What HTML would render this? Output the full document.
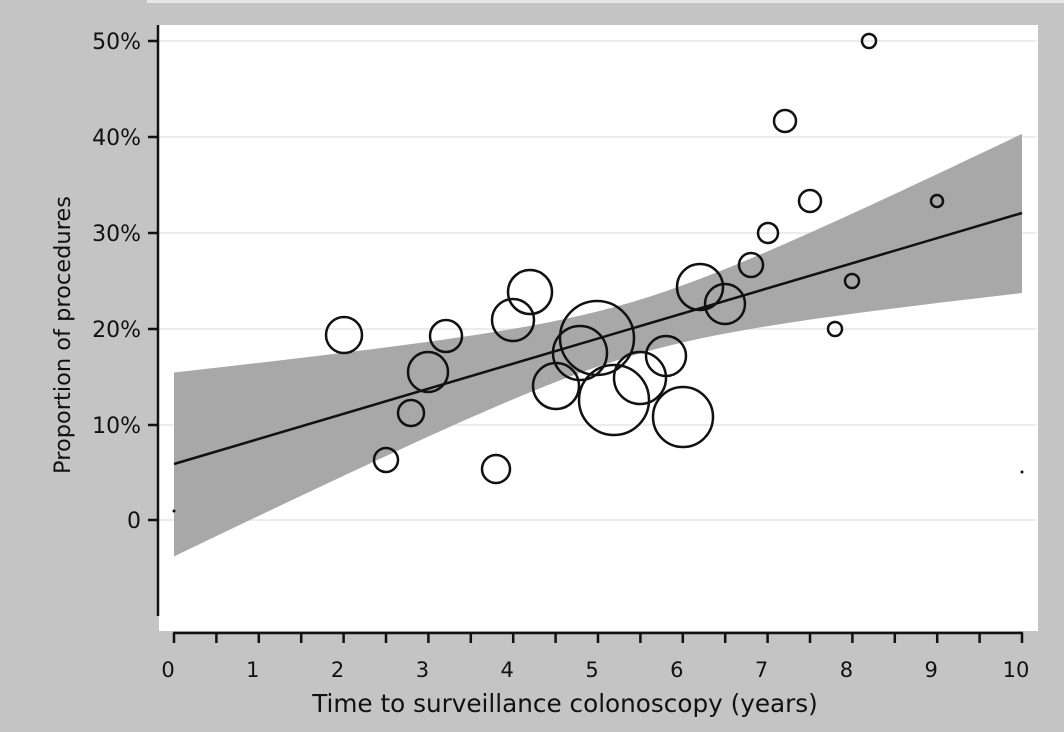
<!DOCTYPE html>
<html><head><style>
html,body{margin:0;padding:0;background:#c4c4c4;}
svg{display:block;font-family:"DejaVu Sans","Liberation Sans",sans-serif;}
</style></head><body>
<svg width="1064" height="732" viewBox="0 0 1064 732" xmlns="http://www.w3.org/2000/svg">
<rect x="0" y="0" width="1064" height="732" fill="#c4c4c4"/>
<rect x="147" y="0" width="917" height="3" fill="#e6e6e6"/>
<rect x="159" y="25" width="879" height="606" fill="#fff"/>
<g stroke="#ececec" stroke-width="2">
<line x1="159" y1="41" x2="1036" y2="41"/><line x1="159" y1="137" x2="1036" y2="137"/>
<line x1="159" y1="233" x2="1036" y2="233"/><line x1="159" y1="329" x2="1036" y2="329"/>
<line x1="159" y1="425" x2="1036" y2="425"/><line x1="159" y1="520" x2="1036" y2="520"/>
</g>
<polygon id="band" fill="#a8a8a8" points=""/>
<line x1="174" y1="464" x2="1022" y2="213" stroke="#111" stroke-width="2.5"/>
<g fill="none" stroke="#111" stroke-width="2.5">
<circle cx="344" cy="335" r="18"/><circle cx="386" cy="460" r="12"/><circle cx="411" cy="413" r="13"/>
<circle cx="428" cy="372" r="20"/><circle cx="446" cy="336" r="16"/><circle cx="496" cy="469" r="14"/>
<circle cx="513" cy="320" r="21"/><circle cx="530" cy="292" r="22"/><circle cx="556" cy="386" r="23"/>
<circle cx="580" cy="353" r="27"/><circle cx="597" cy="338" r="37"/><circle cx="614" cy="400" r="35"/>
<circle cx="640" cy="378" r="26"/><circle cx="666" cy="356" r="20"/><circle cx="683" cy="417" r="30"/>
<circle cx="700" cy="287" r="23"/><circle cx="725" cy="304" r="20"/><circle cx="751" cy="265" r="12"/>
<circle cx="768" cy="233" r="10"/><circle cx="785" cy="121" r="11"/><circle cx="810" cy="201" r="11"/>
<circle cx="835" cy="329" r="7"/><circle cx="852" cy="281" r="7"/><circle cx="869" cy="41" r="7"/>
<circle cx="937" cy="201" r="6"/>
</g>
<circle cx="174" cy="511" r="1.5" fill="#111"/><circle cx="1022" cy="472" r="1.5" fill="#111"/>
<g stroke="#111" stroke-width="2.5">
<line x1="158" y1="25" x2="158" y2="616"/>
<line x1="148" y1="41" x2="158" y2="41"/><line x1="148" y1="137" x2="158" y2="137"/>
<line x1="148" y1="233" x2="158" y2="233"/><line x1="148" y1="329" x2="158" y2="329"/>
<line x1="148" y1="425" x2="158" y2="425"/><line x1="148" y1="520" x2="158" y2="520"/>
<line x1="173" y1="633" x2="1023" y2="633"/>
</g>
<g id="xt" stroke="#111" stroke-width="2.5"></g>
<g font-size="22" fill="#111" text-anchor="end">
<text x="141" y="49">50%</text><text x="141" y="145">40%</text><text x="141" y="241">30%</text>
<text x="141" y="337">20%</text><text x="141" y="433">10%</text><text x="141" y="528">0</text>
</g>
<g id="xl" font-size="21" fill="#111" text-anchor="middle"></g>
<text x="565" y="712" font-size="24.7" fill="#111" text-anchor="middle">Time to surveillance colonoscopy (years)</text>
<text transform="translate(70,335) rotate(-90)" font-size="22.5" fill="#111" text-anchor="middle">Proportion of procedures</text>
</svg>
<script>
(function(){
var px=function(x){return 174+84.8*x},py=function(p){return 520-9.58*p};
var upr=[],lwr=[];
for(var i=0;i<=50;i++){var x=i/5,m=5.8+2.62*x,h=Math.sqrt(7.84+2.89*(x-5.4)*(x-5.4));
upr.push(px(x)+","+py(m+h));lwr.unshift(px(x)+","+py(m-h));}
document.getElementById('band').setAttribute('points',upr.concat(lwr).join(' '));
var ns="http://www.w3.org/2000/svg",g=document.getElementById('xt'),l=document.getElementById('xl');
for(var j=0;j<=20;j++){var e=document.createElementNS(ns,'line'),xx=px(j/2);
e.setAttribute('x1',xx);e.setAttribute('x2',xx);e.setAttribute('y1',633);e.setAttribute('y2',643);g.appendChild(e);
if(j%2==0){var t=document.createElementNS(ns,'text');t.setAttribute('x',xx-6);t.setAttribute('y',677);t.textContent=j/2;l.appendChild(t);}}
})();
</script>
</body></html>
